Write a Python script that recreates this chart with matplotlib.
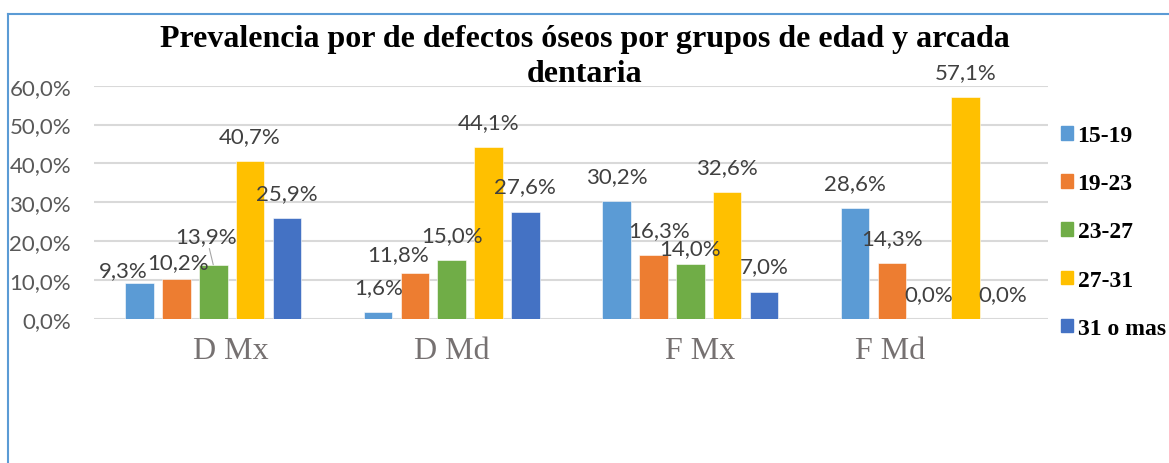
import numpy as np
import matplotlib
matplotlib.use('Agg')
import matplotlib.pyplot as plt
from matplotlib.lines import Line2D
from matplotlib.patches import Patch

# data (percent)
groups = ['D Mx', 'D Md', 'F Mx', 'F Md']
series = ['15-19', '19-23', '23-27', '27-31', '31 o mas']
v_15_19 = [9.3, 1.6, 30.2, 28.6]
v_19_23 = [10.2, 11.8, 16.3, 14.3]
v_23_27 = [13.9, 15.0, 14.0, 0.0]
v_27_31 = [40.7, 44.1, 32.6, 57.1]
v_31_mas = [25.9, 27.6, 7.0, 0.0]
values = [v_15_19, v_19_23, v_23_27, v_27_31, v_31_mas]
yticks = [0, 10, 20, 30, 40, 50, 60]

colors = ['#5B9BD5', '#ED7D31', '#70AD47', '#FFC000', '#4472C4']

# hand-moved labels in the original (pixel nudges: series, group)
nudge = {(0, 0): (-16, -13), (1, 0): (2, -8), (2, 0): (-7, 4),
         (1, 1): (-17, -6), (1, 2): (6, 0), (2, 2): (0, -9)}
leader = [(2, 0)]
# category labels are not centred under their groups either
label_dx = [18, 0, 10, -39]

def fmt(v):
    return ('%.1f' % v).replace('.', ',') + '%'

W, H = 1169, 464
fig = plt.figure(figsize=(W/100, H/100), dpi=100)
ax = fig.add_axes([94/W, 144.3/H, 954/W, 233/H])

step = 0.1543
width = 0.1203
x = np.arange(len(groups))
for j, (vals, c) in enumerate(zip(values, colors)):
    xs = x + (j - 2) * step
    ax.bar(xs, vals, width=width, color=c, edgecolor='white', linewidth=0.4,
           zorder=3, label=series[j])
    for i, v in enumerate(vals):
        dx, dy = nudge.get((j, i), (0, 0))
        kw = {}
        if (j, i) in leader:
            kw['arrowprops'] = dict(arrowstyle='-', color='#A6A6A6', lw=0.8,
                                    shrinkA=0, shrinkB=0)
        ax.annotate(fmt(v), xy=(xs[i], v), xytext=(dx, 25 + dy),
                    textcoords='offset pixels', ha='center', va='center',
                    fontsize=16, family='Lato', color='#404040',
                    annotation_clip=False, zorder=4, **kw)

ax.set_xlim(-0.5, len(groups) - 0.5)
ax.set_ylim(0, 60)
ax.set_yticks(yticks)
ax.set_yticklabels([fmt(t) for t in yticks], family='Lato', fontsize=16,
                   color='#595959')
ax.tick_params(axis='y', length=0, pad=16.5)
ax.set_xticks([])
ax.grid(axis='y', color='#D9D9D9', lw=1.5, zorder=0)
for s in ax.spines.values():
    s.set_visible(False)

for i, g in enumerate(groups):
    ax.annotate(g, xy=(i, 0), xycoords=('data', 'axes fraction'),
                xytext=(label_dx[i], -32), textcoords='offset pixels',
                ha='center', va='center', fontsize=23,
                family='Liberation Serif', color='#767171')

fig.text(0.5, 1 - 39/H, 'Prevalencia por de defectos óseos por grupos de edad y arcada',
         ha='center', va='center', fontsize=23, fontweight='bold',
         family='Liberation Serif', color='black')
fig.text(0.5, 1 - 75/H, 'dentaria', ha='center', va='center', fontsize=23,
         fontweight='bold', family='Liberation Serif', color='black')

handles = [Patch(color=c) for c in colors]
fig.legend(handles, series, loc='center left',
           bbox_to_anchor=(1061/W, 1 - 233/H), frameon=False,
           prop={'family': 'Liberation Serif', 'weight': 'bold', 'size': 17},
           handlelength=0.5, handleheight=0.5, handletextpad=0.2,
           labelspacing=1.15, borderpad=0, borderaxespad=0)

# chart border (cut off at right and bottom in the reference)
fig.add_artist(Line2D([7.5/W, 7.5/W], [0, 1 - 14.5/H], transform=fig.transFigure,
                      color='#5B9BD5', lw=1.5))
fig.add_artist(Line2D([7.5/W, 1], [1 - 14.5/H, 1 - 14.5/H], transform=fig.transFigure,
                      color='#5B9BD5', lw=1.5))

fig.savefig('out.png', dpi=100)
